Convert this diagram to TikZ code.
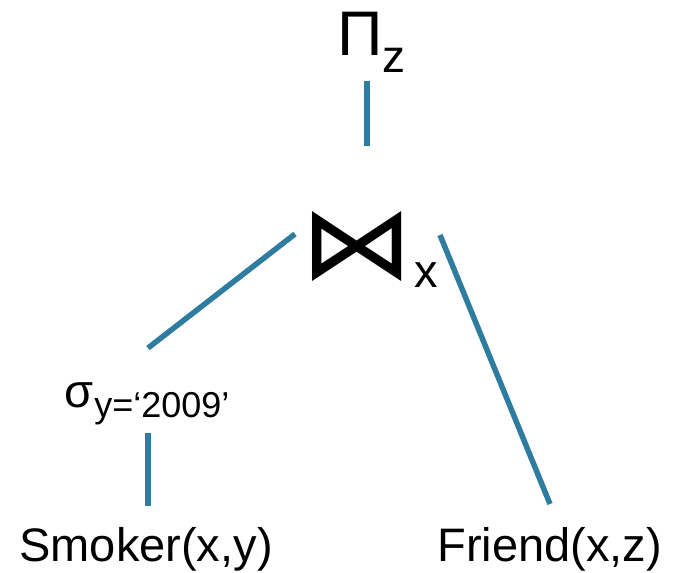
\documentclass[tikz,border=0pt]{standalone}
\usepackage{fontspec}
\setmainfont{Liberation Sans}
\newfontfamily\symfont{DejaVu Sans}
\usepackage{tikz}
\usetikzlibrary{positioning}
\definecolor{edgeblue}{RGB}{46,125,160}

\begin{document}
\begin{tikzpicture}[x=0.5pt, y=-0.5pt,
    edge/.style={line width=2.75pt, draw=edgeblue},
    lbl/.style={inner sep=0pt, anchor=base west, font=\fontsize{23.5}{28}\selectfont}]
        \useasboundingbox (0,0) rectangle (675,573);
        \path
        (367,81)  coordinate (p1)
        (367,146) coordinate (p2)
        (295,234) coordinate (j1)
        (148,348) coordinate (s1)
        (440,235) coordinate (j2)
        (550,504) coordinate (f1)
        (148,433) coordinate (s2)
        (148,506) coordinate (m1)
        ;

        % operators
        \node[lbl] (proj) at (337,55) {\fontsize{31.5}{36}\selectfont Π\raisebox{-8.5pt}{\fontsize{23}{28}\selectfont z}};
        \node[lbl] (join) at (300,278) {\scalebox{1.257}[1.133]{\resizebox{45pt}{!}{\symfont ⋈}}};
        \node[lbl] (joinsub) at (414,287) {x};
        \node[lbl] (sel) at (64,407) {σ\hspace{0.5pt}\raisebox{-5pt}{\fontsize{18}{20}\selectfont y=‘2009’}};

        % relations
        \node[lbl] (smoker) at (19,561) {Smoker(x,y)};
        \node[lbl] (friend) at (437,561) {Friend(x,z)};

        \draw[edge] (p1) -- (p2);
        \draw[edge] (j1) -- (s1);
        \draw[edge] (j2) -- (f1);
        \draw[edge] (s2) -- (m1);
\end{tikzpicture}
\end{document}
